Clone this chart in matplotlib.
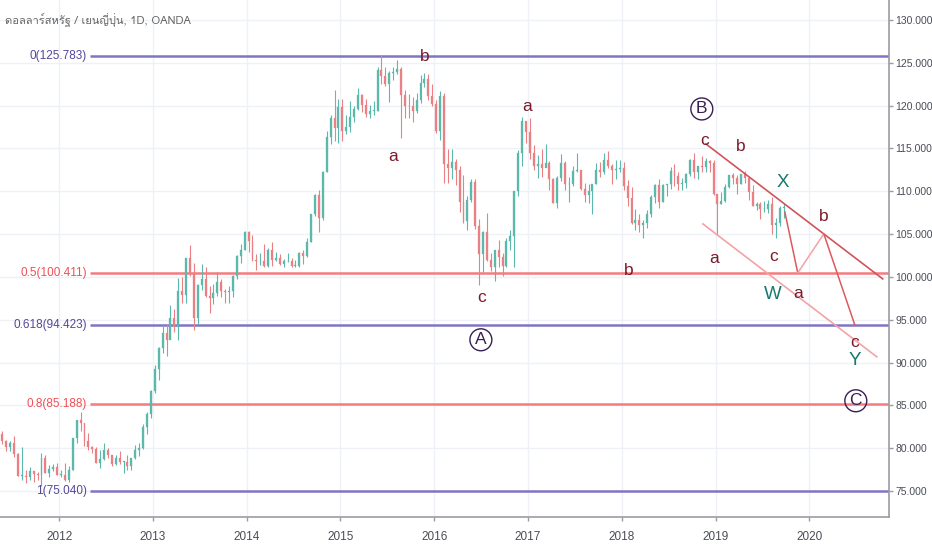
import matplotlib
matplotlib.use("Agg")
import matplotlib.pyplot as plt
from matplotlib import font_manager

# ---------------- data (semi-monthly candles, USD/JPY) ----------------
first_open = 81.7
start_year, start_month, start_half = 2011, 5, 2   # May 2011, second half

highs_2011 = [82.0, 81.0, 80.9, 81.4, 79.5, 80.2, 77.4, 77.8, 77.1, 77.2, 79.5, 79.2, 78.0, 78.1, 78.3]
lows_2011 = [80.5, 79.7, 79.7, 79.0, 76.8, 76.3, 75.9, 76.3, 76.1, 76.3, 75.6, 77.1, 76.6, 77.3, 76.9]
closes_2011 = [80.9, 80.2, 80.6, 79.3, 76.8, 76.8, 76.6, 77.3, 77.0, 76.9, 78.9, 77.1, 77.6, 77.8, 76.9]

highs_2012 = [77.5, 78.3, 77.9, 81.2, 83.3, 84.2, 83.0, 81.8, 80.3, 80.2, 79.8, 80.6, 80.0, 79.2, 79.2, 79.7, 78.5, 79.2, 78.8, 80.4, 80.6, 82.8, 84.2, 86.8]
lows_2012 = [76.6, 76.2, 76.0, 77.4, 80.6, 82.0, 80.3, 79.8, 79.4, 78.3, 77.7, 78.6, 78.9, 77.9, 78.0, 78.2, 77.1, 77.5, 77.4, 78.7, 79.1, 79.9, 81.7, 83.5]
closes_2012 = [76.9, 76.3, 77.5, 81.2, 83.3, 82.9, 80.9, 80.1, 79.9, 78.3, 78.7, 79.8, 79.2, 78.1, 78.8, 78.4, 78.4, 77.9, 78.8, 79.8, 80.0, 82.5, 84.0, 86.7]

highs_2013 = [89.7, 91.8, 94.4, 94.5, 96.7, 96.3, 99.9, 100.0, 102.2, 103.7, 101.6, 99.2, 101.5, 101.1, 98.9, 99.2, 100.6, 99.7, 98.6, 98.9, 100.2, 102.6, 103.9, 105.4]
lows_2013 = [86.5, 88.0, 91.1, 90.8, 92.7, 93.6, 92.6, 96.9, 97.0, 100.1, 93.8, 94.5, 98.5, 97.6, 95.8, 96.8, 97.8, 97.6, 96.9, 96.9, 97.6, 99.8, 101.6, 103.2]
closes_2013 = [89.2, 91.7, 93.5, 92.6, 95.2, 94.2, 98.4, 97.9, 102.2, 100.4, 95.2, 99.1, 99.7, 97.8, 97.5, 98.1, 99.4, 98.3, 98.2, 98.4, 100.1, 102.4, 103.2, 105.3]

highs_2014 = [105.4, 104.9, 102.7, 102.8, 103.8, 103.4, 104.1, 102.9, 102.7, 102.1, 102.8, 102.2, 102.0, 102.9, 103.2, 104.5, 107.4, 109.7, 110.1, 112.4, 117.0, 118.9, 121.8, 120.8]
lows_2014 = [102.9, 101.8, 100.8, 101.4, 101.2, 101.2, 101.3, 101.8, 101.4, 101.1, 101.7, 101.2, 101.1, 101.1, 101.5, 102.3, 104.1, 107.1, 105.2, 106.6, 112.2, 115.5, 115.9, 115.6]
closes_2014 = [104.2, 102.0, 101.8, 101.8, 101.3, 103.2, 102.0, 102.2, 101.5, 101.8, 101.8, 101.3, 101.3, 102.8, 102.5, 104.1, 107.3, 109.6, 106.9, 112.3, 116.3, 118.6, 117.4, 119.8]

highs_2015 = [120.8, 118.9, 120.5, 119.9, 122.0, 121.4, 120.8, 120.1, 120.5, 124.5, 125.9, 124.5, 124.0, 124.5, 125.3, 124.5, 121.8, 121.3, 121.0, 121.5, 123.6, 123.8, 123.7, 122.5]
lows_2015 = [115.9, 116.7, 116.9, 118.1, 119.5, 119.3, 118.7, 118.5, 118.9, 119.4, 122.5, 122.3, 120.4, 123.0, 123.7, 116.2, 118.6, 118.6, 118.1, 119.1, 120.3, 122.2, 120.6, 120.0]
closes_2015 = [117.0, 117.5, 118.7, 119.6, 121.2, 120.1, 119.0, 119.4, 119.4, 124.1, 123.4, 122.5, 123.8, 123.9, 124.3, 121.2, 120.0, 119.9, 119.4, 120.6, 122.6, 123.1, 121.1, 120.2]

highs_2016 = [120.7, 121.7, 121.5, 114.9, 114.9, 113.8, 112.9, 111.9, 109.4, 111.4, 111.4, 106.8, 105.4, 107.5, 102.8, 102.4, 104.3, 102.8, 104.6, 105.5, 110.0, 114.8, 118.7, 118.2]
lows_2016 = [116.8, 116.0, 111.0, 111.0, 111.4, 110.7, 107.6, 106.3, 105.5, 108.7, 105.6, 99.0, 100.6, 101.8, 100.7, 99.5, 101.2, 100.1, 101.2, 103.2, 101.2, 109.5, 112.9, 115.6]
closes_2016 = [117.0, 121.1, 113.2, 112.7, 113.4, 112.5, 108.8, 106.5, 109.0, 111.1, 106.0, 102.7, 105.3, 102.0, 101.2, 103.2, 102.3, 101.3, 104.2, 104.8, 110.0, 114.5, 118.2, 116.9]

highs_2017 = [118.6, 115.4, 114.2, 114.9, 115.5, 113.5, 111.6, 111.8, 114.4, 113.5, 111.7, 112.9, 114.5, 112.5, 111.0, 110.9, 110.7, 113.3, 113.4, 114.5, 114.7, 113.2, 113.7, 113.7]
lows_2017 = [113.8, 112.5, 111.6, 111.7, 112.9, 110.1, 108.6, 108.1, 111.2, 110.2, 108.8, 110.6, 112.3, 110.1, 108.7, 108.6, 107.3, 110.8, 111.7, 112.0, 112.7, 110.8, 111.4, 112.2]
closes_2017 = [114.5, 112.9, 113.2, 112.7, 113.3, 111.4, 108.6, 111.5, 113.3, 110.8, 110.9, 112.4, 112.5, 110.3, 109.6, 110.0, 110.8, 112.5, 112.2, 113.7, 112.9, 112.5, 112.6, 112.7]

highs_2018 = [113.4, 111.3, 110.5, 107.9, 107.3, 106.6, 107.8, 109.6, 110.8, 111.4, 110.9, 110.9, 112.8, 113.2, 112.2, 111.5, 112.1, 113.8, 114.5, 112.9, 114.1, 113.9, 113.7, 113.7]
lows_2018 = [110.2, 108.3, 106.2, 105.5, 105.2, 104.6, 105.7, 107.0, 108.6, 108.1, 108.7, 109.4, 110.3, 110.6, 110.1, 110.1, 110.4, 111.8, 111.6, 111.4, 112.3, 112.3, 112.2, 109.6]
closes_2018 = [110.6, 109.2, 106.3, 106.7, 106.1, 106.3, 107.4, 109.3, 110.7, 108.8, 110.7, 110.8, 112.4, 111.8, 110.9, 111.0, 112.0, 113.7, 112.2, 112.9, 112.8, 113.5, 113.3, 109.7]

highs_2019 = [109.7, 109.9, 110.9, 111.9, 112.1, 111.9, 112.0, 112.4, 111.7, 110.7, 108.8, 108.7, 108.9, 109.0, 109.3, 106.9, 108.3, 108.5]
lows_2019 = [104.9, 108.5, 108.7, 110.4, 110.8, 109.7, 110.8, 111.0, 109.0, 108.3, 107.8, 106.8, 107.6, 107.5, 105.0, 104.5, 105.9, 106.9]
closes_2019 = [108.5, 108.9, 110.5, 111.9, 111.5, 110.8, 112.0, 111.5, 109.9, 108.3, 108.5, 107.9, 107.9, 108.5, 106.1, 106.3, 108.1, 108.1]

highs = highs_2011 + highs_2012 + highs_2013 + highs_2014 + highs_2015 + highs_2016 + highs_2017 + highs_2018 + highs_2019
lows = lows_2011 + lows_2012 + lows_2013 + lows_2014 + lows_2015 + lows_2016 + lows_2017 + lows_2018 + lows_2019
closes = closes_2011 + closes_2012 + closes_2013 + closes_2014 + closes_2015 + closes_2016 + closes_2017 + closes_2018 + closes_2019
opens = [first_open] + closes[:-1]

# Fibonacci retracement levels
fib_ratios = ["0", "0.5", "0.618", "0.8", "1"]
fib_prices = [125.783, 100.411, 94.423, 85.188, 75.040]
fib_kinds = ["purple", "red", "purple", "red", "purple"]
fib_start = 2012.33

# Elliott wave annotations (decimal year, price)
upper_channel = [(2018.897, 115.53), (2020.783, 99.77)]
lower_channel = [(2018.865, 106.19), (2020.72, 90.67)]
projection_path = [(2019.739, 107.59), (2019.877, 100.47), (2020.155, 105.02), (2020.485, 94.41)]

wave_labels = [
    ("b", 2015.901, 125.68), ("a", 2015.56, 114.01), ("a", 2016.988, 119.84),
    ("c", 2016.509, 97.56), ("b", 2018.076, 100.71), ("c", 2018.886, 115.88),
    ("b", 2019.27, 115.18), ("b", 2020.155, 107.01), ("a", 2018.982, 102.11),
    ("c", 2019.622, 102.34), ("a", 2019.877, 98.02), ("c", 2020.485, 92.31),
]
wxy_labels = [("X", 2019.718, 110.98), ("W", 2019.611, 97.91), ("Y", 2020.485, 90.21)]
circled_labels = [("A", 2016.498, 92.66), ("B", 2018.854, 119.61), ("C", 2020.496, 85.54)]

title_text = "ดอลลาร์สหรัฐ / เยนญี่ปุ่น, 1D, OANDA"
year_ticks = [2012, 2013, 2014, 2015, 2016, 2017, 2018, 2019, 2020]
price_ticks = [75, 80, 85, 90, 95, 100, 105, 110, 115, 120, 125, 130]

# ---------------- fonts ----------------
base_font = "Liberation Sans"
thai_family = None
try:
    from fontTools.ttLib import TTFont
    for f in font_manager.fontManager.ttflist:
        try:
            tt = TTFont(f.fname, fontNumber=0, lazy=True)
            cm = tt.getBestCmap()
            if cm and 0x0E14 in cm:
                thai_family = f.name
                break
        except Exception:
            pass
except Exception:
    pass
title_fams = ["DejaVu Sans"] if thai_family is None else [thai_family, "DejaVu Sans"]

# ---------------- figure ----------------
W, H = 932, 550
fig = plt.figure(figsize=(W / 100, H / 100), dpi=100)
ax = fig.add_axes([0, 33 / H, 889 / W, 1 - 33 / H])
ax.set_xlim(2011.37, 2020.85)
ax.set_ylim(71.97, 132.33)

grid_c = "#eef1f6"
for yv in year_ticks:
    ax.axvline(yv, color=grid_c, lw=1, zorder=0)
for pv in price_ticks:
    ax.axhline(pv, color=grid_c, lw=1, zorder=0)

# candle x positions
n = len(closes)
h0 = (start_year * 12 + (start_month - 1)) * 2 + (start_half - 1)
xs = []
for i in range(n):
    h = h0 + i
    yr = h // 24
    m0 = (h % 24) // 2
    half = h % 2
    xs.append(yr + m0 / 12 + (half * 2 + 1) / 48)

up_c = "#5bb8aa"
dn_c = "#ea8083"
colors = [up_c if c >= o else dn_c for o, c in zip(opens, closes)]
ax.vlines(xs, lows, highs, colors=colors, lw=0.8, zorder=2)
bottoms = [min(o, c) for o, c in zip(opens, closes)]
heights = [max(abs(c - o), 0.08) for o, c in zip(opens, closes)]
ax.bar(xs, heights, bottom=bottoms, width=1 / 24 * 0.5, color=colors, edgecolor=colors, lw=0.2, zorder=3)

# Fibonacci lines
fib_line_col = {"purple": "#8074c4", "red": "#f47c7f"}
fib_txt_col = {"purple": "#54479a", "red": "#ef4f55"}
for r, p, k in zip(fib_ratios, fib_prices, fib_kinds):
    ax.plot([fib_start, 2020.85], [p, p], color=fib_line_col[k], lw=1.8, zorder=1, solid_capstyle="butt")
    ax.text(fib_start - 0.035, p, f"{r}({p:.3f})", color=fib_txt_col[k], fontsize=8.5,
            ha="right", va="center", family=base_font, zorder=5)

# channels and projection
ax.plot(*zip(*upper_channel), color="#d0545a", lw=1.2, zorder=4)
ax.plot(*zip(*lower_channel), color="#f2a3a6", lw=1.2, zorder=4)
px, py = zip(*projection_path)
ax.plot(px[:2], py[:2], color="#e0585e", lw=1.1, zorder=4)
ax.plot(px[1:3], py[1:3], color="#f2a3a6", lw=1.1, zorder=4)
ax.plot(px[2:], py[2:], color="#e0585e", lw=1.1, zorder=4)

for t, x, y in wave_labels:
    ax.text(x, y, t, color="#7a1a2a", fontsize=12.5, ha="center", va="center", family=base_font, zorder=6)
for t, x, y in wxy_labels:
    ax.text(x, y, t, color="#157a6e", fontsize=13.5, ha="center", va="center", family=base_font, zorder=6)
for t, x, y in circled_labels:
    ax.text(x, y, t, color="#3b1d55", fontsize=12.5, ha="center", va="center", family=base_font, zorder=6,
            bbox=dict(boxstyle="circle,pad=0.2", fc="none", ec="#3b1d55", lw=1.0))

# title
ax.text(0.006, 0.962, title_text, transform=ax.transAxes, fontsize=8, color="#666666",
        ha="left", va="center", family=title_fams, zorder=6)

# axes styling
for s in ["top", "left"]:
    ax.spines[s].set_visible(False)
ax.spines["right"].set_color("#9a9ca3")
ax.spines["bottom"].set_color("#9a9ca3")
ax.spines["right"].set_linewidth(1.2)
ax.spines["bottom"].set_linewidth(1.2)
ax.yaxis.tick_right()
ax.set_yticks(price_ticks)
ax.set_yticklabels([f"{v:.3f}" for v in price_ticks])
ax.set_xticks(year_ticks)
ax.set_xticklabels([str(v) for v in year_ticks])
ax.tick_params(axis="both", colors="#9a9ca3", labelcolor="#4a4d55", labelsize=8.5, length=3, width=1)
for lab in ax.get_xticklabels() + ax.get_yticklabels():
    lab.set_fontfamily(base_font)
ax.tick_params(axis="y", labelsize=7.5, pad=1.5)
ax.tick_params(axis="x", pad=7)

fig.savefig("out.png", dpi=100)
